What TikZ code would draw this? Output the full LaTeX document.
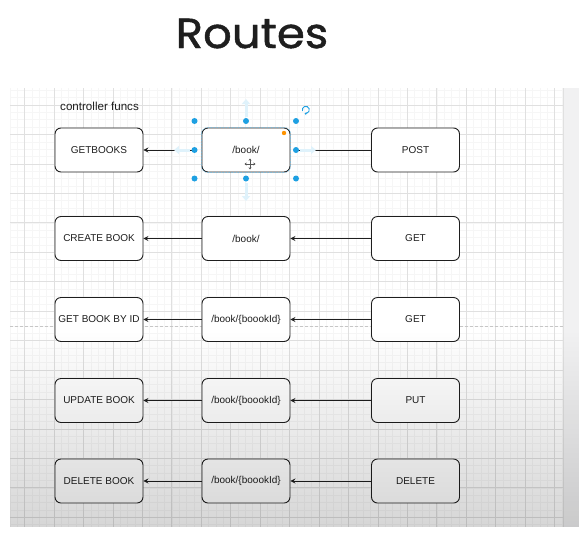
\documentclass[tikz,border=0pt]{standalone}
\usepackage{fontspec}
\setmainfont{Liberation Sans}
\newfontfamily\titlefont[FakeBold=1.1]{Poppins}
\usetikzlibrary{arrows.meta,fadings}
\tikzfading[name=darken, top color=transparent!100, bottom color=transparent!0]
\definecolor{minorgrid}{HTML}{F6F6F6}
\definecolor{majorgrid}{HTML}{E0E0E0}
\definecolor{handle}{HTML}{1EA0E2}
\definecolor{ink}{HTML}{1E1E1E}
\definecolor{stripcol}{HTML}{F1F1F2}
\tikzset{
  box/.style={draw=ink, fill=white, rounded corners=6pt, minimum width=88pt, minimum height=44pt,
    line width=0.9pt, inner sep=0pt, text=ink, font=\fontsize{10}{12}\selectfont},
  conn/.style={draw=ink, line width=0.8pt, -{Stealth[length=5pt,width=5pt,inset=1.8pt]}},
  plainline/.style={draw=ink, line width=0.8pt},
  hover/.style={draw=handle!14, line width=3pt, -{Triangle[length=5pt,width=8pt]}},
  handledot/.style={fill=handle},
}
\begin{document}
\begin{tikzpicture}[x=1pt,y=-1pt]
\useasboundingbox (0,0) rectangle (588,536);
\fill[white] (0,0) rectangle (588,536);
% canvas grid
\begin{scope}
\clip (10,88) rectangle (563,527);
\foreach \i in {-6,...,69} \draw[minorgrid, line width=0.45pt] ({54+7.36*\i},88) -- ++(0,439);
\foreach \j in {-3,...,57} \draw[minorgrid, line width=0.45pt] (10,{105+7.36*\j}) -- ++(553,0);
\foreach \k in {-1,...,17} \draw[majorgrid, line width=0.6pt] ({54+29.44*\k},88) -- ++(0,439);
\foreach \k in {-1,...,14} \draw[majorgrid, line width=0.6pt] (10,{105+29.44*\k}) -- ++(553,0);
\draw[gray!45, line width=0.6pt, dash pattern=on 3pt off 2pt] (10,326) -- (563,326);
\end{scope}
\fill[stripcol] (563,88) rectangle (579,527);
\draw[majorgrid, line width=0.5pt] (563,88) -- (563,527);
% label
\node[anchor=base west, inner sep=0pt, text=ink, font=\fontsize{11.6}{14}\selectfont] (lbl) at (60,110) {controller funcs};
% nodes
\node[box] (f1) at (99,150) {GETBOOKS};
\node[box] (m1) at (246,150) {/book/};
\node[box] (r1) at (415.5,150) {POST};
\node[box] (f2) at (99,238.5) {CREATE BOOK};
\node[box] (m2) at (246,238.5) {/book/};
\node[box] (r2) at (415.5,238.5) {GET};
\node[box] (f3) at (99,319.5) {GET BOOK BY ID};
\node[box] (m3) at (246,319.5) {/book/\{boookId\}};
\node[box] (r3) at (415.5,319.5) {GET};
\node[box] (f4) at (99,400.5) {UPDATE BOOK};
\node[box] (m4) at (246,400.5) {/book/\{boookId\}};
\node[box] (r4) at (415.5,400.5) {PUT};
\node[box] (f5) at (99,481) {DELETE BOOK};
\node[box] (m5) at (246,481) {/book/\{boookId\}};
\node[box] (r5) at (415.5,481) {DELETE};
% selection handles of m1
\coordinate (hW) at (194.5,150);
\coordinate (hE) at (296,150);
% connectors
\draw[plainline] (r1.west) -- (hE);
\draw[conn] (hW) -- (f1.east);
\foreach \n in {2,3,4,5} {
  \draw[conn] (r\n.west) -- (m\n.east);
  \draw[conn] (m\n.west) -- (f\n.east);
}
% hover arrows
\draw[hover] (246,117) -- (246,99);
\draw[hover] (246,183) -- (246,201);
\draw[hover] (190,150) -- (174,150);
\draw[hover] (300,150) -- (316,150);
% selection outline
\draw[handle!70, line width=0.5pt, dash pattern=on 1.5pt off 1.5pt, rounded corners=6pt] (m1.north west) rectangle (m1.south east);
\foreach \p in {(194.5,121),(246,121),(296,121),(194.5,150),(296,150),(194.5,178.5),(246,178.5),(296,178.5)}
  \fill[handledot] \p circle (3pt);
% orange dot
\fill[orange!85!yellow] (284,133) circle (2.2pt);
% rotate icon
\draw[handle, line width=0.9pt, -{Stealth[length=2.2pt,width=3pt]}] (306,112) ++(-3.5,-1) arc[start angle=200, end angle=-110, radius=3.5pt];
% move cursor
\draw[ink!75, line width=0.8pt, {Stealth[length=2.2pt,width=3pt]}-{Stealth[length=2.2pt,width=3pt]}] (244.5,164) -- (255.5,164);
\draw[ink!75, line width=0.8pt, {Stealth[length=2.2pt,width=3pt]}-{Stealth[length=2.2pt,width=3pt]}] (250,158.5) -- (250,169.5);
% darkening overlay
\fill[black, fill opacity=0.16, path fading=darken] (10,330) rectangle (579,527);
% title
\node[anchor=base, inner sep=0pt, text=ink, font=\titlefont\fontsize{42}{42}\selectfont] (title) at (252,48) {\scalebox{1.07}[1]{Routes}};
\end{tikzpicture}
\end{document}
